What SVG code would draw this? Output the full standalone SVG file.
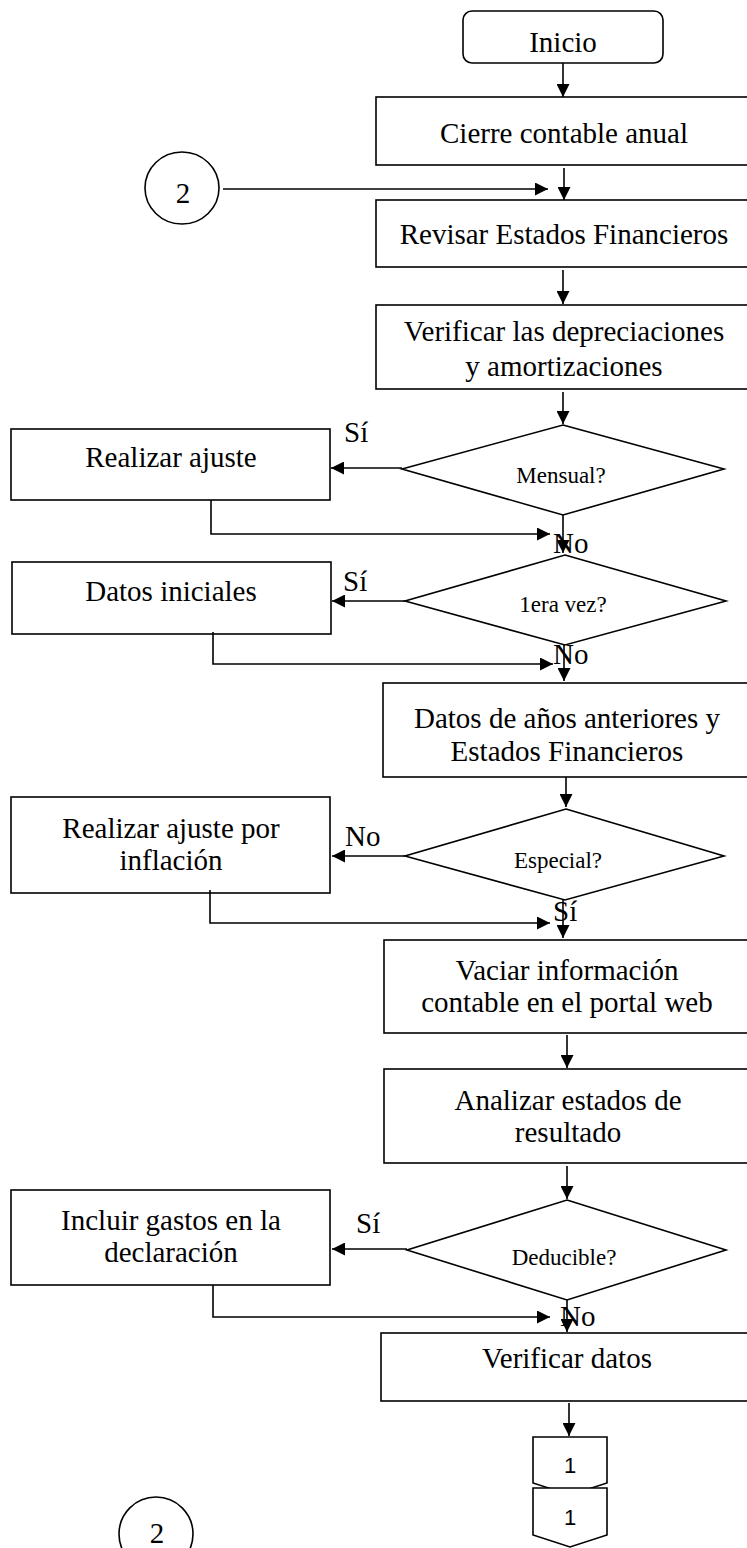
<svg xmlns="http://www.w3.org/2000/svg" width="747" height="1548" viewBox="0 0 747 1548">
<style>
.b{fill:#fff;stroke:#000;stroke-width:1.6}
.c line,.c polyline{fill:none;stroke:#000;stroke-width:1.6}
.t{font-family:"Liberation Serif","Times New Roman",serif;font-size:29px;fill:#000;text-anchor:middle}
.d{font-family:"Liberation Serif","Times New Roman",serif;font-size:23px;fill:#000;text-anchor:middle}
.l{font-family:"Liberation Serif","Times New Roman",serif;font-size:29px;fill:#000}
.s{font-family:"Liberation Sans",Arial,sans-serif;font-size:22px;fill:#000;text-anchor:middle}
</style>
<defs>
<marker id="ah" markerUnits="userSpaceOnUse" markerWidth="13" markerHeight="13" refX="13" refY="6.5" orient="auto">
<path d="M0,0 L13,6.5 L0,13 z" fill="#000"/>
</marker>
</defs>
<rect width="747" height="1548" fill="#fff"/>
<g id="inicio"><rect class="b" x="463" y="11" width="200" height="52" rx="9"/><text class="t" x="563" y="52">Inicio</text></g>
<g id="cierre"><rect class="b" x="376" y="97" width="376" height="68"/><text class="t" x="564" y="143">Cierre contable anual</text></g>
<g id="conector2a"><ellipse class="b" cx="182" cy="188" rx="37" ry="36"/><text class="t" x="183" y="203">2</text></g>
<g id="revisar"><rect class="b" x="376" y="200" width="376" height="67"/><text class="t" x="564" y="244">Revisar Estados Financieros</text></g>
<g id="verificar"><rect class="b" x="376" y="305" width="376" height="84"/><text class="t" x="564" y="341">Verificar las depreciaciones</text><text class="t" x="564" y="376">y amortizaciones</text></g>
<g id="mensual"><polygon class="b" points="563,425 724,469 563,515 402,469"/><text class="d" x="561" y="483">Mensual?</text></g>
<g id="realizar"><rect class="b" x="11" y="429" width="319" height="71"/><text class="t" x="171" y="467">Realizar ajuste</text></g>
<g id="primera"><polygon class="b" points="565,555 726,601 565,645 405,601"/><text class="d" x="563" y="612">1era vez?</text></g>
<g id="iniciales"><rect class="b" x="12" y="562" width="319" height="72"/><text class="t" x="171" y="601">Datos iniciales</text></g>
<g id="anteriores"><rect class="b" x="383" y="683" width="369" height="94"/><text class="t" x="567" y="728">Datos de años anteriores y</text><text class="t" x="567" y="761">Estados Financieros</text></g>
<g id="especial"><polygon class="b" points="566,809 724,856 565,900 405,856"/><text class="d" x="558" y="868">Especial?</text></g>
<g id="inflacion"><rect class="b" x="11" y="797" width="319" height="96"/><text class="t" x="171" y="838">Realizar ajuste por</text><text class="t" x="171" y="870">inflación</text></g>
<g id="vaciar"><rect class="b" x="384" y="940" width="368" height="93"/><text class="t" x="567" y="980">Vaciar información</text><text class="t" x="567" y="1012">contable en el portal web</text></g>
<g id="analizar"><rect class="b" x="384" y="1069" width="368" height="94"/><text class="t" x="568" y="1110">Analizar estados de</text><text class="t" x="568" y="1142">resultado</text></g>
<g id="deducible"><polygon class="b" points="567,1200 726,1250 567,1300 407,1250"/><text class="d" x="564" y="1265">Deducible?</text></g>
<g id="incluir"><rect class="b" x="11" y="1190" width="319" height="95"/><text class="t" x="171" y="1230">Incluir gastos en la</text><text class="t" x="171" y="1262">declaración</text></g>
<g id="verificardatos"><rect class="b" x="381" y="1333" width="371" height="68"/><text class="t" x="567" y="1368">Verificar datos</text></g>
<g id="pagina1a"><polygon class="b" points="533,1437 607,1437 607,1483 570,1495 533,1483"/><text class="s" x="570" y="1473">1</text></g>
<g id="pagina1b"><polygon class="b" points="533,1488 607,1488 607,1535 570,1547 533,1535"/><text class="s" x="570" y="1525">1</text></g>
<g id="conector2b"><circle class="b" cx="156" cy="1534" r="37"/><text class="t" x="157" y="1543">2</text></g>
<g id="conectores" class="c">
<line x1="563" y1="63" x2="563" y2="97" marker-end="url(#ah)"/>
<line x1="564" y1="168" x2="564" y2="200" marker-end="url(#ah)"/>
<line x1="223" y1="189" x2="548" y2="189" marker-end="url(#ah)"/>
<line x1="563" y1="270" x2="563" y2="304" marker-end="url(#ah)"/>
<line x1="563" y1="392" x2="563" y2="424" marker-end="url(#ah)"/>
<line x1="402" y1="468" x2="331" y2="468" marker-end="url(#ah)"/>
<polyline points="211,500 211,534 550,534" marker-end="url(#ah)"/>
<line x1="563" y1="515" x2="563" y2="553" marker-end="url(#ah)"/>
<line x1="405" y1="601" x2="332" y2="601" marker-end="url(#ah)"/>
<polyline points="213,632 213,664 553,664" marker-end="url(#ah)"/>
<line x1="564" y1="645" x2="564" y2="681" marker-end="url(#ah)"/>
<line x1="566" y1="777" x2="566" y2="807" marker-end="url(#ah)"/>
<line x1="405" y1="856" x2="332" y2="856" marker-end="url(#ah)"/>
<polyline points="210,890 210,923 550,923" marker-end="url(#ah)"/>
<line x1="563" y1="900" x2="563" y2="938" marker-end="url(#ah)"/>
<line x1="567" y1="1035" x2="567" y2="1068" marker-end="url(#ah)"/>
<line x1="567" y1="1166" x2="567" y2="1199" marker-end="url(#ah)"/>
<line x1="407" y1="1249" x2="332" y2="1249" marker-end="url(#ah)"/>
<polyline points="213,1285 213,1317 550,1317" marker-end="url(#ah)"/>
<line x1="567" y1="1300" x2="567" y2="1332" marker-end="url(#ah)"/>
<line x1="569" y1="1403" x2="569" y2="1436" marker-end="url(#ah)"/>
</g>
<g id="etiquetas">
<text class="l" x="344" y="442">Sí</text>
<text class="l" x="553" y="553">No</text>
<text class="l" x="343" y="591">Sí</text>
<text class="l" x="553" y="664">No</text>
<text class="l" x="345" y="846">No</text>
<text class="l" x="553" y="921">Sí</text>
<text class="l" x="356" y="1233">Sí</text>
<text class="l" x="560" y="1326">No</text>
</g>
</svg>
